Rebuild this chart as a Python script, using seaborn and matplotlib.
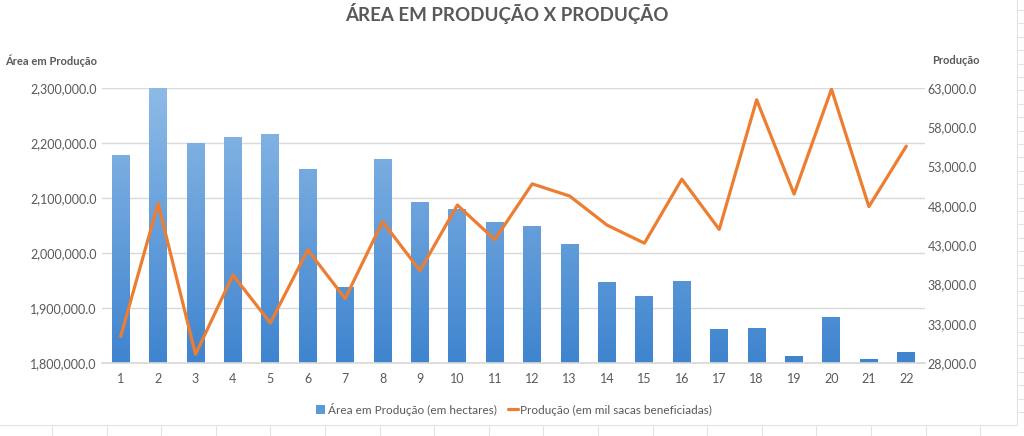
import numpy as np
import pandas as pd
import matplotlib
matplotlib.use("Agg")
import matplotlib.pyplot as plt
import seaborn as sns
from matplotlib.lines import Line2D
from matplotlib.patches import Patch
from matplotlib.ticker import FuncFormatter, FixedLocator, MultipleLocator
from matplotlib.colors import LinearSegmentedColormap

# ---- data ----
categories = [str(i) for i in range(1, 23)]
area_hectares = [2178000, 2300000, 2200600, 2211500, 2216000, 2152000, 1937600, 2170000,
                 2092000, 2079400, 2055800, 2049000, 2015800, 1946700, 1921800, 1949700,
                 1862400, 1863600, 1812100, 1883600, 1807900, 1819400]
producao_mil_sacas = [31400, 48300, 29100, 39200, 33100, 42400, 36200, 46000,
                      39750, 48100, 43700, 50800, 49250, 45550, 43250, 51400,
                      45000, 61500, 49500, 62850, 47900, 55600]
right_ticks = [28000, 33000, 38000, 43000, 48000, 53000, 58000, 63000]
title = "ÁREA EM PRODUÇÃO X PRODUÇÃO"
left_label = "Área em Produção"
right_label = "Produção"
bar_label = "Área em Produção (em hectares)"
line_label = "Produção (em mil sacas beneficiadas)"

sns.set_theme(style="white")
plt.rcParams['font.family'] = ['Lato', 'DejaVu Sans']

GREY = "#595959"
GRID = "#d9d9d9"
ORANGE = "#ED7D31"
BLUE = "#5B9BD5"

W, H = 1024, 436
fig = plt.figure(figsize=(W / 100, H / 100), dpi=100)
x0, x1, y0, y1 = 102, 925, 88, 363
ax = fig.add_axes([x0 / W, (H - y1) / H, (x1 - x0) / W, (y1 - y0) / H])

df = pd.DataFrame({"cat": categories, "area": area_hectares, "prod": producao_mil_sacas})
sns.barplot(data=df, x="cat", y="area", ax=ax, color=BLUE, width=0.48,
            saturation=1, edgecolor="none")

ax.set_ylim(1800000, 2300000)
ax.set_xlim(-0.5, len(categories) - 0.5)
ax.yaxis.set_major_locator(MultipleLocator(100000))
ax.yaxis.set_major_formatter(FuncFormatter(lambda v, p: f"{v:,.1f}"))
ax.set_xlabel("")
ax.set_ylabel("")
ax.set_axisbelow(True)
ax.yaxis.grid(True, color=GRID, linewidth=1.0)
ax.xaxis.grid(False)
for s in ["top", "right", "left"]:
    ax.spines[s].set_visible(False)
ax.spines["bottom"].set_color(GRID)
ax.tick_params(axis="both", length=0, colors=GREY, labelsize=9)
ax.tick_params(axis="y", pad=4)
ax.tick_params(axis="x", pad=7)

# gradient fill on bars
cmap = LinearSegmentedColormap.from_list("g", ["#3f84cf", "#8ebbe6"])
grad = np.linspace(0, 1, 256).reshape(-1, 1)
for p in list(ax.patches):
    bx = p.get_x()
    bw = p.get_width()
    im = ax.imshow(grad, cmap=cmap, aspect="auto", origin="lower",
                   extent=[bx, bx + bw, 1800000, 2300000], zorder=p.get_zorder() + 0.1)
    im.set_clip_path(p)
ax.set_xlim(-0.5, len(categories) - 0.5)
ax.set_ylim(1800000, 2300000)

ax2 = ax.twinx()
sns.lineplot(x=np.arange(len(categories)), y=producao_mil_sacas, ax=ax2,
             color=ORANGE, linewidth=2.3)
ax2.set_ylim(right_ticks[0], right_ticks[-1])
ax2.yaxis.set_major_locator(FixedLocator(right_ticks))
ax2.yaxis.set_major_formatter(FuncFormatter(lambda v, p: f"{v:,.1f}"))
ax2.grid(False)
for s in ["top", "right", "left", "bottom"]:
    ax2.spines[s].set_visible(False)
ax2.tick_params(axis="y", length=0, colors=GREY, labelsize=9, pad=2)
ax2.set_ylabel("")

# titles & axis labels
fig.text(507 / W, 1 - 14 / H, title, ha="center", va="center",
         fontsize=13.5, fontweight="bold", color=GREY)
fig.text(5 / W, 1 - 61 / H, left_label, ha="left", va="center",
         fontsize=8, fontweight="bold", color=GREY)
fig.text(932 / W, 1 - 61 / H, right_label, ha="left", va="center",
         fontsize=8, fontweight="bold", color=GREY)

# legend
handles = [Patch(facecolor=BLUE, edgecolor="none"),
           Line2D([0], [0], color=ORANGE, linewidth=2.3)]
fig.legend(handles, [bar_label, line_label], loc="center",
           bbox_to_anchor=(514 / W, 1 - 409 / H), ncol=2, frameon=False,
           fontsize=8.5, labelcolor=GREY, handlelength=0.8, handleheight=0.9,
           handletextpad=0.2, columnspacing=1.0)

# spreadsheet background lines
def fl(xa, ya, xb, yb):
    fig.add_artist(Line2D([xa / W, xb / W], [1 - ya / H, 1 - yb / H],
                          color="#e3e3e3", linewidth=0.8))

fl(0, 425, 1017, 425)
fl(1017, 0, 1017, 425)
xc = 52.0
while xc < 1024:
    fl(xc, 425, xc, 436)
    xc += 54.6
yc = 10.0
while yc < 425:
    fl(1017, yc, 1024, yc)
    yc += 13.4

fig.savefig("out.png", dpi=100, facecolor="white")
